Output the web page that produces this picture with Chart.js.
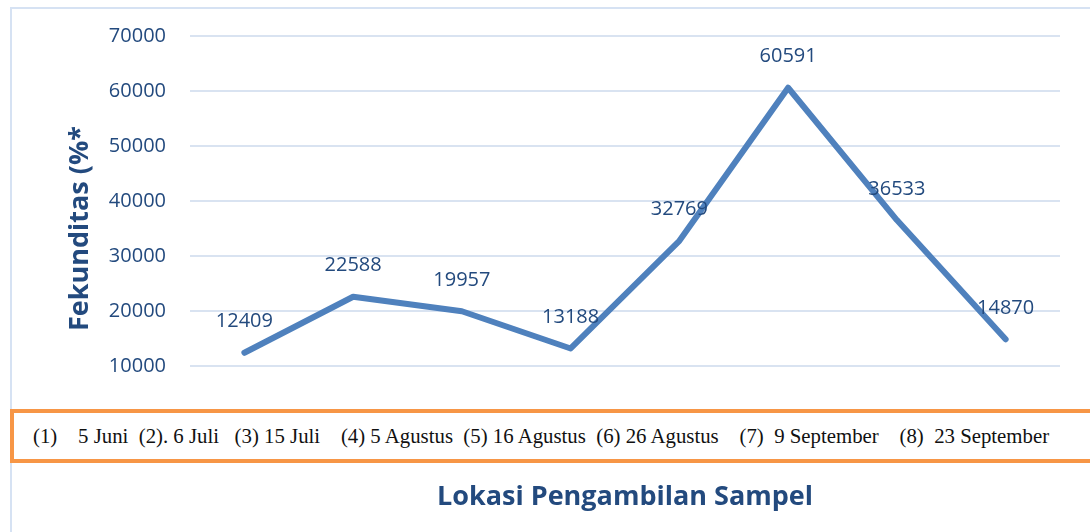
<!DOCTYPE html>
<html>
<head>
<meta charset="utf-8">
<script src="https://cdn.jsdelivr.net/npm/chart.js@4"></script>
<style>
  body { margin: 0; background: #fff; }
  #wrap { position: relative; width: 1090px; height: 532px; overflow: hidden; }
  #frame { position: absolute; left: 10px; top: 7px; width: 1100px; height: 540px; border: 2px solid #d6e2f3; box-sizing: border-box; }
  #dates {
    position: absolute; left: 10px; top: 409px; width: 1100px; height: 54px;
    border: 4px solid #f79646; box-sizing: border-box; background: #fff;
    font-family: "Liberation Serif", "Times New Roman", serif; font-size: 20.8px; color: #111;
    white-space: pre; line-height: 46px; padding-left: 19px;
  }
</style>
</head>
<body>
<div id="wrap">
  <div id="frame"></div>
  <canvas id="chart" width="1090" height="532"></canvas>
  <div id="dates"></div>
</div>
<script>
// data
const categories = ["5 Juni", "6 Juli", "15 Juli", "5 Agustus", "16 Agustus", "26 Agustus", "9 September", "23 September"];
const values = [12409, 22588, 19957, 13188, 32769, 60591, 36533, 14870];
const dateLabels = ["(1)    5 Juni", "(2). 6 Juli", " (3) 15 Juli", "  (4) 5 Agustus", "(5) 16 Agustus", "(6) 26 Agustus", "  (7)  9 September", "  (8)  23 September"];
const yTitle = "Fekunditas (%*";
const xTitle = "Lokasi Pengambilan Sampel";

const textBlue = "#234a7e";
const lineBlue = "#4f81bd";

document.getElementById("dates").textContent = dateLabels.join("  ");

// value labels above each point
const pointLabels = {
  id: "pointLabels",
  afterDatasetsDraw(chart) {
    const ctx = chart.ctx;
    const meta = chart.getDatasetMeta(0);
    ctx.save();
    ctx.font = '20px "Open Sans"';
    ctx.fillStyle = textBlue;
    ctx.textAlign = "center";
    ctx.textBaseline = "middle";
    meta.data.forEach((pt, i) => {
      ctx.fillText(String(values[i]), pt.x, pt.y - 31);
    });
    ctx.restore();
  }
};

new Chart(document.getElementById("chart"), {
  type: "line",
  data: {
    labels: categories,
    datasets: [{
      data: values,
      borderColor: lineBlue,
      borderWidth: 6,
      borderCapStyle: "round",
      borderJoinStyle: "round",
      pointRadius: 0,
      tension: 0,
    }],
  },
  options: {
    responsive: false,
    animation: false,
    layout: { padding: { left: 10, right: 30, top: 34, bottom: 0 } },
    plugins: { legend: { display: false }, tooltip: { enabled: false } },
    scales: {
      x: {
        offset: true,
        grid: { display: false },
        border: { display: false },
        ticks: { display: false },
        title: {
          display: true,
          text: xTitle,
          color: textBlue,
          font: { family: "Open Sans", size: 27, weight: "bold" },
          padding: { top: 0, bottom: 18 },
        },
        afterFit(scale) { scale.height = 111; },
      },
      y: {
        min: 0,
        max: 70000,
        grid: { color: "#d9e3f1", lineWidth: 2, drawTicks: false },
        border: { display: false },
        ticks: {
          stepSize: 10000,
          padding: 24,
          color: textBlue,
          font: { family: "Open Sans", size: 20 },
          callback: (v) => String(v),
        },
        title: {
          display: true,
          text: yTitle,
          color: textBlue,
          font: { family: "Open Sans", size: 27, weight: "bold" },
          padding: { top: 54, bottom: 0 },
        },
        afterFit(scale) { scale.width = 180; },
      },
    },
  },
  plugins: [pointLabels],
});
</script>
</body>
</html>
